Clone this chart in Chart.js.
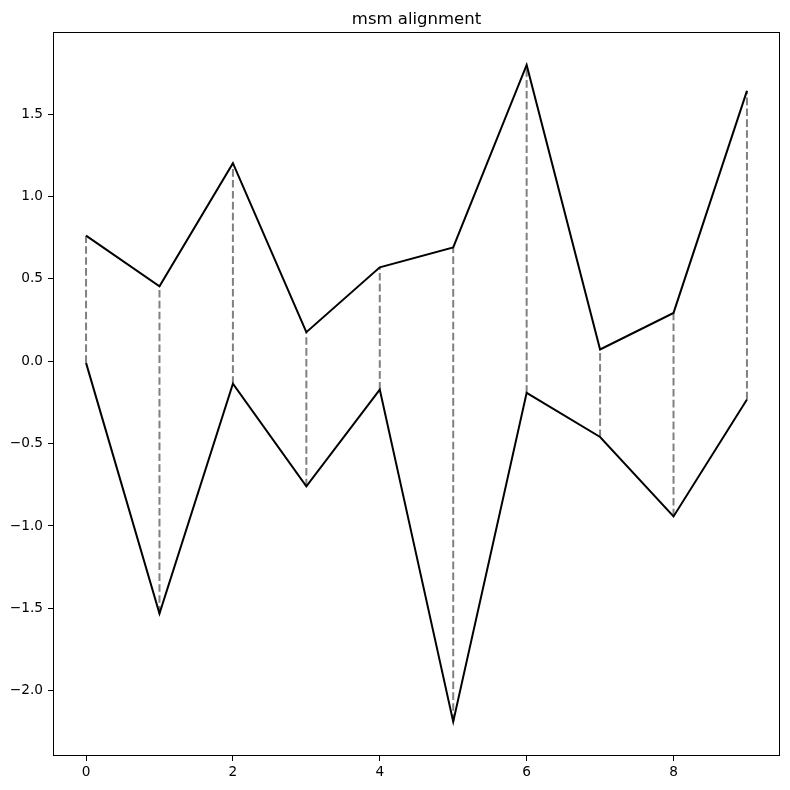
<!DOCTYPE html>
<html>
<head>
<meta charset="utf-8">
<script src="https://cdn.jsdelivr.net/npm/chart.js@4/dist/chart.umd.min.js"></script>
<style>
  html, body { margin: 0; padding: 0; background: #fff; }
  #wrap { width: 790px; height: 790px; }
</style>
</head>
<body>
<div id="wrap"><canvas id="msm-chart" width="790" height="790"></canvas></div>
<script>
// values
let xIndex = [0, 1, 2, 3, 4, 5, 6, 7, 8, 9]
let upperSeries = [0.762, 0.455, 1.202, 0.176, 0.570, 0.691, 1.798, 0.071, 0.293, 1.641]
let lowerSeries = [-0.010, -1.532, -0.137, -0.760, -0.172, -2.188, -0.192, -0.460, -0.942, -0.232]
let xTicks = [0, 2, 4, 6, 8]
let yTicks = [-2.0, -1.5, -1.0, -0.5, 0.0, 0.5, 1.0, 1.5]
let chartTitle = 'msm alignment'

let fontFamily = '"DejaVu Sans", sans-serif'

// dashed grey connectors between matching points
let connectors = []
for (let i = 0; i < xIndex.length; i++) {
    connectors.push({
        data: [{x: xIndex[i], y: lowerSeries[i]}, {x: xIndex[i], y: upperSeries[i]}],
        borderColor: '#808080',
        borderWidth: 2,
        borderDash: [7.6, 3.3],
        pointRadius: 0,
        showLine: true,
        order: 2
    })
}

let upperLine = {
    data: xIndex.map((x, i) => ({x: x, y: upperSeries[i]})),
    borderColor: '#000',
    borderWidth: 2,
    pointRadius: 0,
    showLine: true,
    order: 1
}
let lowerLine = {
    data: xIndex.map((x, i) => ({x: x, y: lowerSeries[i]})),
    borderColor: '#000',
    borderWidth: 2,
    pointRadius: 0,
    showLine: true,
    order: 1
}

// frame round the plot and the title
let framePlugin = {
    id: 'frame',
    afterDraw(chart) {
        let ctx = chart.ctx
        let a = chart.chartArea
        ctx.save()
        ctx.strokeStyle = '#000'
        ctx.lineWidth = 1
        ctx.strokeRect(a.left + 0.5, a.top + 0.5, a.right - a.left - 1, a.bottom - a.top - 1)
        ctx.fillStyle = '#000'
        ctx.font = '16.5px ' + fontFamily
        ctx.textAlign = 'center'
        ctx.textBaseline = 'alphabetic'
        ctx.fillText(chartTitle, (a.left + a.right) / 2, a.top - 8)
        ctx.restore()
    }
}

let minus = v => v.toFixed(1).replace('-', '\u2212')

let ctx = document.querySelector('#msm-chart').getContext('2d')
let chart = new Chart(ctx, {
    type: 'scatter',
    data: { datasets: connectors.concat([upperLine, lowerLine]) },
    options: {
        responsive: false,
        animation: false,
        layout: { padding: { top: 32, right: 10, left: 0, bottom: 0 } },
        plugins: { legend: { display: false }, tooltip: { enabled: false } },
        scales: {
            x: {
                type: 'linear',
                min: -0.45,
                max: 9.45,
                afterBuildTicks: s => { s.ticks = xTicks.map(v => ({value: v})) },
                afterFit: s => { s.height = 34 },
                grid: { drawOnChartArea: false, drawTicks: true, tickLength: 5, color: '#000' },
                border: { display: false },
                ticks: { color: '#000', padding: 3, font: { family: fontFamily, size: 13.7 }, callback: v => String(v), maxRotation: 0 }
            },
            y: {
                type: 'linear',
                min: -2.396,
                max: 1.998,
                afterBuildTicks: s => { s.ticks = yTicks.map(v => ({value: v})) },
                afterFit: s => { s.width = 53 },
                grid: { drawOnChartArea: false, drawTicks: true, tickLength: 5, color: '#000' },
                border: { display: false },
                ticks: { color: '#000', padding: 5, font: { family: fontFamily, size: 13.7 }, callback: v => minus(v) }
            }
        }
    },
    plugins: [framePlugin]
})
</script>
</body>
</html>
